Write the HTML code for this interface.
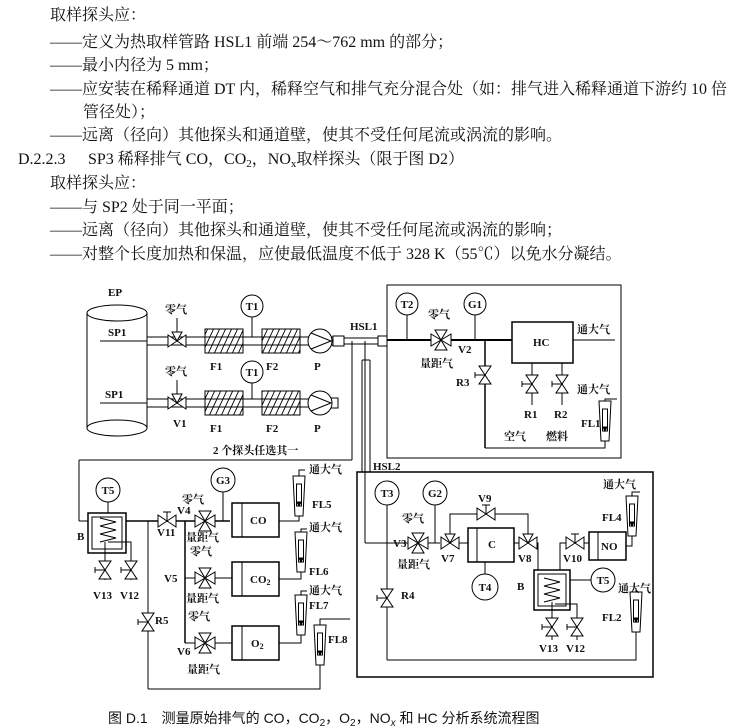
<!DOCTYPE html>
<html><head><meta charset="utf-8"><style>
body{margin:0;background:#fff;}
svg{display:block}
.t{font-family:"Liberation Serif","Noto Serif CJK SC",serif;font-size:16px;fill:#111}
.b{font-family:"Liberation Serif","Noto Serif CJK SC",serif;font-size:11px;fill:#111;font-weight:bold}
.c{font-family:"Liberation Sans","Noto Sans CJK SC",sans-serif;font-size:14px;fill:#111}
</style></head><body>
<svg width="734" height="728" viewBox="0 0 734 728" xmlns="http://www.w3.org/2000/svg">
<defs>
<pattern id="h" width="6" height="24" patternUnits="userSpaceOnUse" patternTransform="skewX(-25)"><line x1="1" y1="0" x2="1" y2="24" stroke="#000" stroke-width="1"/></pattern>
<g id="vh"><path d="M-9,-6 L9,6 L9,-6 L-9,6 Z" fill="#fff" stroke="#000" stroke-width="1"/></g>
<g id="vht"><use href="#vh"/><line x1="0" y1="0" x2="0" y2="-9" stroke="#000"/><line x1="-4" y1="-9" x2="4" y2="-9" stroke="#000"/></g>
<g id="vv"><path d="M-6,-9 L6,9 L-6,9 L6,-9 Z" fill="#fff" stroke="#000"/><line x1="0" y1="0" x2="-10" y2="0" stroke="#000"/><line x1="-10" y1="-3" x2="-10" y2="3" stroke="#000"/></g>
<g id="v4"><path d="M-10,-6 L10,6 L10,-6 L-10,6 Z M-6,-10 L6,10 L-6,10 L6,-10 Z" fill="#fff" stroke="#000"/></g>
<g id="v3"><path d="M-9,-6 L9,6 L9,-6 L-9,6 Z" fill="#fff" stroke="#000"/><path d="M-5,-9 L5,-9 L0,0 Z" fill="#fff" stroke="#000"/></g>
<g id="fm"><path d="M-6,-20 L6,-20 L4,20 L-4,20 Z" fill="#fff" stroke="#000"/><rect x="-2.5" y="-12" width="5" height="22" fill="#fff" stroke="#000"/><path d="M-2,6 L2,6 L0,10Z" fill="#000"/></g>
<g id="coil"><path d="M-8,-12 L8,-8 L-8,-4 L8,0 L-8,4 L8,8 L-8,12" fill="none" stroke="#000"/></g>
</defs>

<g class="t">
<text x="50" y="20">取样探头应：</text>
<text x="50" y="47">——定义为热取样管路 HSL1 前端 254～762 mm 的部分；</text>
<text x="50" y="70">——最小内径为 5 mm；</text>
<text x="50" y="94">——应安装在稀释通道 DT 内，稀释空气和排气充分混合处（如：排气进入稀释通道下游约 10 倍</text>
<text x="83" y="117">管径处）；</text>
<text x="50" y="140">——远离（径向）其他探头和通道壁，使其不受任何尾流或涡流的影响。</text>
<text x="18" y="164">D.2.2.3</text>
<text x="88" y="164">SP3 稀释排气 CO，CO<tspan font-size="11" dy="3">2</tspan><tspan dy="-3">，NO</tspan><tspan font-size="11" dy="3">x</tspan><tspan dy="-3">取样探头（限于图 D2）</tspan></text>
<text x="50" y="188">取样探头应：</text>
<text x="50" y="212">——与 SP2 处于同一平面；</text>
<text x="50" y="235">——远离（径向）其他探头和通道壁，使其不受任何尾流或涡流的影响；</text>
<text x="50" y="259">——对整个长度加热和保温，应使最低温度不低于 328 K（55℃）以免水分凝结。</text>
</g>

<g stroke="#000" fill="none" stroke-width="1">
<path d="M87,313 L87,428 M147,313 L147,428"/>
<ellipse cx="117" cy="313" rx="30" ry="8" fill="#fff"/>
<ellipse cx="117" cy="428" rx="30" ry="8" fill="#fff"/>
<line x1="100" y1="341" x2="147" y2="341"/><line x1="100" y1="403" x2="147" y2="403"/>
<path d="M147,337 H320 M147,345 H320 M147,399 H330 M147,407 H330"/>
<path d="M320,337 H344 M320,345 H344"/>
<rect x="333" y="336" width="11" height="10" fill="#fff"/>
<rect x="330" y="398" width="8" height="10" fill="#fff"/>
<rect x="205" y="329" width="38" height="24" fill="url(#h)"/>
<rect x="262" y="329" width="38" height="24" fill="url(#h)"/>
<rect x="205" y="391" width="38" height="24" fill="url(#h)"/>
<rect x="262" y="391" width="38" height="24" fill="url(#h)"/>
<circle cx="252" cy="306" r="11" fill="#fff"/><line x1="252" y1="317" x2="252" y2="337"/>
<circle cx="252" cy="372" r="11" fill="#fff"/><line x1="252" y1="383" x2="252" y2="399"/>
<circle cx="320" cy="341" r="12" fill="#fff"/><path d="M311,333 L331,341 L311,349"/>
<circle cx="320" cy="403" r="12" fill="#fff"/><path d="M311,395 L331,403 L311,411"/>
<use href="#v3" x="177" y="341"/><line x1="177" y1="318" x2="177" y2="332"/>
<use href="#v3" x="177" y="403"/><line x1="177" y1="380" x2="177" y2="394"/>
<path d="M344,338 H387 M344,344 H387"/>
<rect x="378" y="336" width="9" height="10" fill="#fff"/>
<line x1="352" y1="341" x2="352" y2="460"/>
<line x1="79" y1="460" x2="352" y2="460"/>
<line x1="79" y1="460" x2="79" y2="521"/>
<line x1="365" y1="341" x2="365" y2="543"/>
<path d="M362,360 V472 M370,360 V472 M362,360 H370"/>
<rect x="387" y="285" width="234" height="173"/>
<line x1="387" y1="340" x2="512" y2="340" stroke-width="2"/>
<circle cx="407" cy="304" r="11" fill="#fff"/><line x1="407" y1="315" x2="407" y2="340"/>
<circle cx="475" cy="304" r="11" fill="#fff"/><line x1="475" y1="315" x2="475" y2="340"/>
<use href="#v4" x="441" y="340"/>
<rect x="512" y="322" width="61" height="41" fill="#fff" stroke-width="1.5"/>
<line x1="573" y1="340" x2="615" y2="340"/>
<line x1="485" y1="340" x2="485" y2="448" stroke-width="1.5"/>
<use href="#vv" x="485" y="375"/>
<path d="M485,448 H605 V441"/>
<use href="#fm" x="605" y="421"/>
<path d="M605,401 V399 H617"/>
<line x1="532" y1="363" x2="532" y2="405"/><use href="#vv" x="532" y="384"/>
<line x1="562" y1="363" x2="562" y2="405"/><use href="#vv" x="562" y="384"/>
<line x1="79" y1="521" x2="88" y2="521"/>
<circle cx="108" cy="490" r="12" fill="#fff"/><line x1="108" y1="502" x2="108" y2="513"/>
<rect x="88" y="513" width="38" height="40" fill="#fff" stroke-width="1.5"/>
<rect x="92" y="517" width="30" height="32"/>
<use href="#coil" x="108" y="530"/>
<path d="M126,521 H230" stroke-width="1.5"/>
<path d="M108,542 H131 V580 M105,542 V580"/>
<use href="#vv" x="105" y="570"/><use href="#vv" x="131" y="570"/>
<line x1="148" y1="521" x2="148" y2="689"/><use href="#vv" x="148" y="622"/>
<path d="M148,689 H320 V663"/>
<use href="#fm" x="320" y="645"/>
<path d="M320,625 V619 H350"/>
<use href="#vht" x="167" y="521"/>
<line x1="185" y1="521" x2="185" y2="643" stroke-width="1.5"/>
<path d="M185,578 H232 M185,643 H232"/>
<use href="#v4" x="205" y="521"/>
<use href="#v4" x="205" y="578"/>
<use href="#v4" x="205" y="643"/>
<circle cx="223" cy="480" r="12" fill="#fff"/><line x1="223" y1="492" x2="223" y2="521"/>
<rect x="232" y="503" width="47" height="34" fill="#fff" stroke-width="1.5"/><line x1="242" y1="503" x2="242" y2="537"/>
<rect x="232" y="562" width="47" height="34" fill="#fff" stroke-width="1.5"/><line x1="242" y1="562" x2="242" y2="596"/>
<rect x="232" y="626" width="47" height="34" fill="#fff" stroke-width="1.5"/><line x1="242" y1="626" x2="242" y2="660"/>
<path d="M279,521 H299 V512"/><use href="#fm" x="299" y="496"/><path d="M299,476 V470 H305"/>
<path d="M279,579 H301 V570"/><use href="#fm" x="301" y="552"/><path d="M301,532 V529 H307"/>
<path d="M279,643 H301 V634"/><use href="#fm" x="301" y="615"/><path d="M301,595 V591 H307"/>
<rect x="357" y="472" width="296" height="205" stroke-width="1.5"/>
<path d="M365,543 H440"/>
<path d="M450,543 H468"/>
<circle cx="387" cy="493" r="12" fill="#fff"/><line x1="387" y1="505" x2="387" y2="660"/>
<circle cx="435" cy="493" r="12" fill="#fff"/><line x1="435" y1="505" x2="435" y2="543"/>
<use href="#v4" x="418" y="543"/>
<use href="#vv" x="387" y="598"/>
<path d="M387,660 H636 V630"/>
<use href="#fm" x="636" y="612"/><path d="M636,592 V588"/>
<path d="M450,543 V514 H528 V543"/>
<use href="#v3" x="450" y="543"/>
<use href="#vht" x="486" y="514"/>
<rect x="468" y="528" width="46" height="34" fill="#fff" stroke-width="1.5"/><line x1="477" y1="528" x2="477" y2="562"/>
<line x1="485" y1="562" x2="485" y2="574"/><circle cx="485" cy="587" r="13" fill="#fff"/>
<path d="M514,543 H538 V575"/>
<use href="#v3" x="528" y="543"/>
<path d="M560,575 V543 H590"/>
<use href="#vht" x="575" y="543"/>
<rect x="534" y="570" width="36" height="40" fill="#fff" stroke-width="1.5"/>
<rect x="538" y="574" width="28" height="32"/>
<use href="#coil" x="552" y="590"/>
<path d="M570,580 H591"/><circle cx="603" cy="580" r="12" fill="#fff"/>
<path d="M552,602 V640 M555,604 H577 V640"/>
<use href="#vv" x="552" y="627"/><use href="#vv" x="577" y="627"/>
<rect x="589" y="532" width="37" height="28" fill="#fff" stroke-width="1.5"/><line x1="598" y1="532" x2="598" y2="560"/>
<path d="M626,546 H632 V536"/><use href="#fm" x="632" y="516"/><path d="M632,496 V492 H640"/>
</g>

<g class="b">
<text x="108" y="296">EP</text>
<text x="108" y="336">SP1</text>
<text x="105" y="398">SP1</text>
<text x="165" y="313">零气</text><text x="165" y="375">零气</text>
<text x="173" y="427">V1</text>
<text x="210" y="370">F1</text><text x="266" y="370">F2</text><text x="314" y="370">P</text>
<text x="210" y="432">F1</text><text x="266" y="432">F2</text><text x="314" y="432">P</text>
<text x="252" y="376" text-anchor="middle">T1</text>
<text x="252" y="310" text-anchor="middle">T1</text>
<text x="213" y="454">2 个探头任选其一</text>
<text x="350" y="330">HSL1</text>
<text x="373" y="470">HSL2</text>
<text x="407" y="308" text-anchor="middle">T2</text>
<text x="475" y="308" text-anchor="middle">G1</text>
<text x="428" y="318">零气</text>
<text x="420" y="367">量距气</text>
<text x="458" y="353">V2</text>
<text x="533" y="346">HC</text>
<text x="577" y="333">通大气</text>
<text x="577" y="393">通大气</text>
<text x="456" y="386">R3</text>
<text x="524" y="418">R1</text><text x="554" y="418">R2</text>
<text x="504" y="440">空气</text><text x="546" y="440">燃料</text>
<text x="581" y="427">FL1</text>
<text x="108" y="494" text-anchor="middle">T5</text>
<text x="77" y="540">B</text>
<text x="93" y="599">V13</text><text x="120" y="599">V12</text>
<text x="223" y="484" text-anchor="middle">G3</text>
<text x="182" y="503">零气</text>
<text x="177" y="514">V4</text>
<text x="186" y="541">量距气</text>
<text x="190" y="555">零气</text>
<text x="164" y="582">V5</text>
<text x="186" y="602">量距气</text>
<text x="188" y="620">零气</text>
<text x="177" y="655">V6</text>
<text x="187" y="673">量距气</text>
<text x="250" y="524">CO</text>
<text x="250" y="583">CO<tspan font-size="8" dy="2">2</tspan></text>
<text x="251" y="647">O<tspan font-size="8" dy="2">2</tspan></text>
<text x="309" y="473">通大气</text><text x="312" y="508">FL5</text>
<text x="309" y="531">通大气</text><text x="309" y="575">FL6</text>
<text x="309" y="594">通大气</text><text x="309" y="609">FL7</text>
<text x="328" y="643">FL8</text>
<text x="155" y="624">R5</text>
<text x="157" y="536">V11</text>
<text x="387" y="497" text-anchor="middle">T3</text>
<text x="435" y="497" text-anchor="middle">G2</text>
<text x="402" y="522">零气</text>
<text x="393" y="547">V3</text>
<text x="397" y="568">量距气</text>
<text x="441" y="562">V7</text>
<text x="478" y="502">V9</text>
<text x="488" y="548">C</text>
<text x="485" y="591" text-anchor="middle">T4</text>
<text x="518" y="562">V8</text>
<text x="563" y="562">V10</text>
<text x="601" y="550">NO</text>
<text x="517" y="590">B</text>
<text x="603" y="584" text-anchor="middle">T5</text>
<text x="401" y="599">R4</text>
<text x="539" y="652">V13</text><text x="566" y="652">V12</text>
<text x="603" y="488">通大气</text>
<text x="602" y="521">FL4</text>
<text x="618" y="592">通大气</text>
<text x="602" y="621">FL2</text>
</g>
<text class="c" x="108" y="723">图 D.1　测量原始排气的 CO，CO<tspan font-size="10" dy="3">2</tspan><tspan dy="-3">，O</tspan><tspan font-size="10" dy="3">2</tspan><tspan dy="-3">，NO</tspan><tspan font-size="10" dy="3" font-style="italic">x</tspan><tspan dy="-3"> 和 HC 分析系统流程图</tspan></text>
</svg>
</body></html>
